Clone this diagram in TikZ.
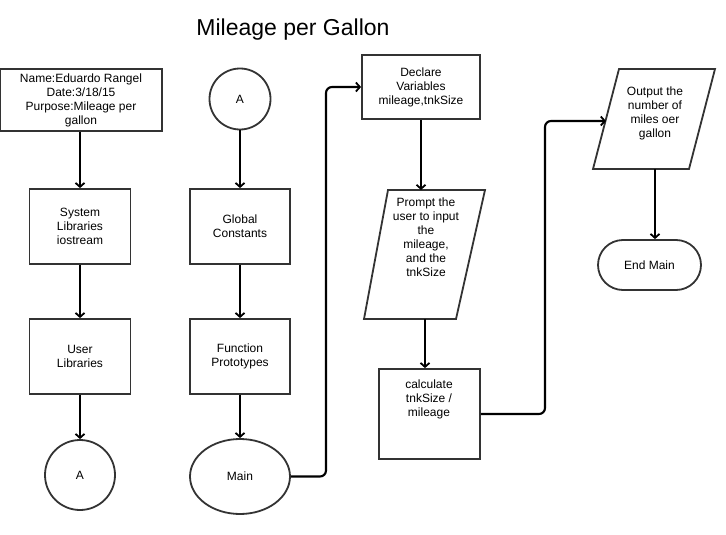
\documentclass[tikz,border=0pt]{standalone}
\usepackage{fontspec}
\setmainfont{Liberation Sans}
\usetikzlibrary{arrows.meta,shapes.geometric,calc}
\tikzset{
  txt/.style={align=center,font=\fontsize{12}{14}\selectfont,inner sep=0pt},
  shapeline/.style={draw=black!80,line width=1.8pt},
  boxst/.style={shapeline,rectangle,inner sep=0pt,txt},
  conn/.style={line width=2.1pt,-{Straight Barb[length=4pt,width=9pt,line width=1.8pt]}},
}
\begin{document}
\begin{tikzpicture}[x=1pt,y=-1pt]
\useasboundingbox (0,0) rectangle (726,535);
\node[font=\fontsize{23}{27}\selectfont,inner sep=0pt] (title) at (293,30) {Mileage per Gallon};

\node[boxst,minimum width=162pt,minimum height=62pt] (name) at (81,100) {Name:Eduardo Rangel\\Date:3/18/15\\Purpose:Mileage per\\gallon};
\node[boxst,minimum width=101pt,minimum height=75pt] (sys) at (80,226.5) {System\\Libraries\\iostream};
\node[boxst,minimum width=101pt,minimum height=75pt] (user) at (80,356.5) {User\\Libraries};
\node[shapeline,circle,minimum size=70pt,inner sep=0pt,txt] (a1) at (80,475) {A};

\node[shapeline,circle,minimum size=61pt,inner sep=0pt,txt] (a2) at (240,99) {A};
\node[boxst,minimum width=100pt,minimum height=75pt] (glob) at (240,226.5) {Global\\Constants};
\node[boxst,minimum width=100pt,minimum height=75pt] (func) at (240,356.5) {Function\\Prototypes};
\node[shapeline,ellipse,minimum width=100pt,minimum height=75pt,inner sep=0pt,txt] (main) at (240,476.5) {Main};

\node[boxst,minimum width=118pt,minimum height=64pt] (decl) at (421,87) {Declare\\Variables\\mileage,tnkSize};

% Prompt parallelogram
\draw[shapeline,line join=miter] (388,190) -- (485,190) -- (456,319) -- (364,319) -- cycle;
\coordinate (ptop) at (421,190);
\coordinate (pbot) at (425,319);
\node[txt] (prompt) at (426,237) {Prompt the\\user to input\\the\\mileage,\\and the\\tnkSize};

\node[boxst,minimum width=101pt,minimum height=90pt] (calc) at (429.5,414) {};
\node[txt] (calctxt) at (429,399) {calculate\\tnkSize /\\mileage};

% Output parallelogram
\draw[shapeline,line join=miter] (619,69) -- (715,69) -- (689,169) -- (593,169) -- cycle;
\coordinate (oleft) at (606,121);
\coordinate (obot) at (655,169);
\node[txt] (out) at (655,113) {Output the\\number of\\miles oer\\gallon};
\node[shapeline,rectangle,rounded corners=25pt,minimum width=103pt,minimum height=50pt,inner sep=0pt,txt] (endm) at (649.5,265) {End Main};

\coordinate (c1) at (326,0);
\coordinate (c2) at (545,0);

\draw[conn] (name.south -| sys.north) -- (sys.north);
\draw[conn] (sys.south) -- (user.north);
\draw[conn] (user.south) -- (a1.north);
\draw[conn] (a2.south) -- (glob.north);
\draw[conn] (glob.south) -- (func.north);
\draw[conn] (func.south) -- (main.north);
\draw[conn,rounded corners=6pt] (main.east) -| (c1 |- decl.west) -- (decl.west);
\draw[conn] (decl.south) -- (ptop);
\draw[conn] (pbot) -- (pbot |- calc.north);
\draw[conn,rounded corners=6pt] (calc.east) -| (c2 |- oleft) -- (oleft);
\draw[conn] (obot) -- (obot |- endm.north);
\end{tikzpicture}
\end{document}
